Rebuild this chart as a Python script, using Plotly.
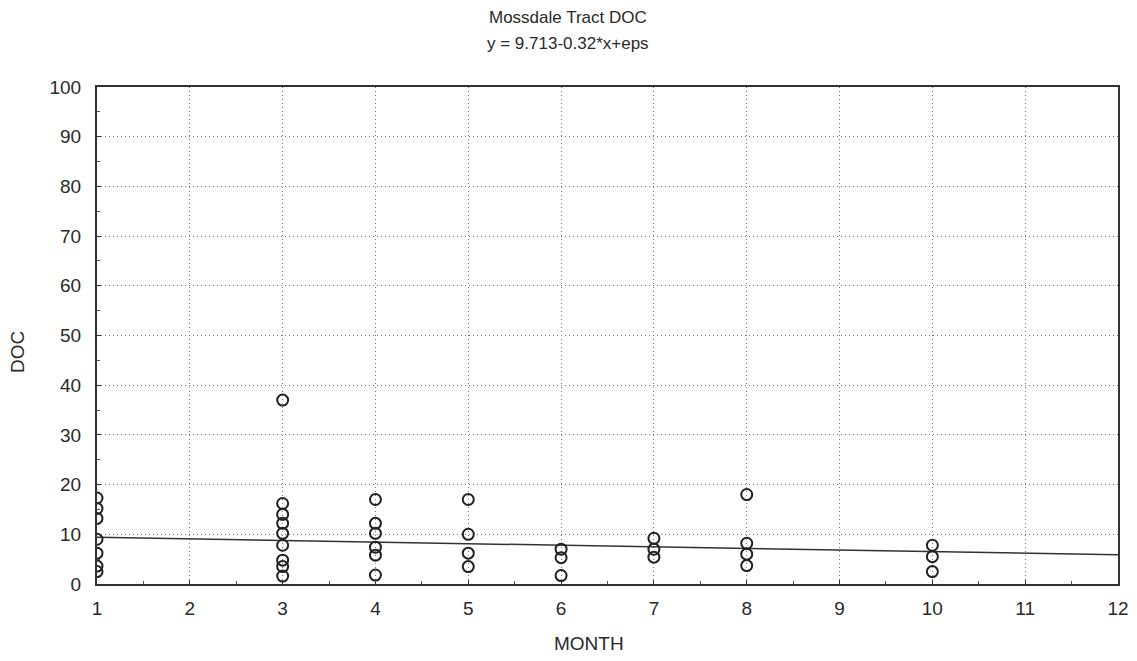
import plotly.graph_objects as go

# Data
month = [1, 1, 1, 1, 1, 1, 1,
         3, 3, 3, 3, 3, 3, 3, 3, 3,
         4, 4, 4, 4, 4, 4,
         5, 5, 5, 5,
         6, 6, 6,
         7, 7, 7,
         8, 8, 8, 8,
         10, 10, 10]
doc = [17.3, 15.2, 13.2, 9.0, 6.2, 3.6, 2.5,
       37.0, 16.2, 14.0, 12.2, 10.2, 7.8, 4.8, 3.5, 1.6,
       17.0, 12.2, 10.2, 7.4, 5.8, 1.8,
       17.0, 10.0, 6.2, 3.5,
       7.0, 5.3, 1.7,
       9.2, 7.0, 5.4,
       18.0, 8.2, 6.0, 3.7,
       7.8, 5.5, 2.5]
intercept = 9.713
slope = -0.32
fit_x = [1, 12]
fit_y = [intercept + slope * x for x in fit_x]

x_ticks = list(range(1, 13))
y_ticks = list(range(0, 101, 10))

title_line1 = "Mossdale Tract DOC"
title_line2 = "y = 9.713-0.32*x+eps"
x_title = "MONTH"
y_title = "DOC"

fig = go.Figure()
fig.add_trace(go.Scatter(
    x=fit_x, y=fit_y, mode="lines",
    line=dict(color="#333333", width=1.5), showlegend=False, hoverinfo="skip"))
fig.add_trace(go.Scatter(
    x=month, y=doc, mode="markers",
    marker=dict(symbol="circle-open", size=11, color="#222222",
                line=dict(width=2, color="#222222")),
    showlegend=False))

font_family = "Liberation Sans, Arial, sans-serif"
txt = "#2a2a2a"
fig.update_layout(
    width=1137, height=661,
    margin=dict(l=89, r=27, t=79, b=85),
    paper_bgcolor="white", plot_bgcolor="white",
    font=dict(family=font_family, color=txt),
)
fig.add_annotation(text=title_line1, xref="paper", yref="paper", x=0.461, y=1,
                   yshift=70, showarrow=False, xanchor="center", yanchor="middle",
                   font=dict(size=17, color=txt))
fig.add_annotation(text=title_line2, xref="paper", yref="paper", x=0.461, y=1,
                   yshift=44, showarrow=False, xanchor="center", yanchor="middle",
                   font=dict(size=17, color=txt))
fig.add_annotation(text=x_title, xref="paper", yref="paper", x=0.482, y=0,
                   yshift=-59, showarrow=False, xanchor="center", yanchor="middle",
                   font=dict(size=19, color=txt))
fig.add_annotation(text=y_title, xref="paper", yref="paper", x=0, y=0.467,
                   xshift=-79, showarrow=False, xanchor="center", yanchor="middle",
                   textangle=-90, font=dict(size=19, color=txt))

grid_dash = "1px,3px"
fig.update_xaxes(
    range=[1, 12], tickvals=x_ticks, ticktext=[str(t) for t in x_ticks],
    showgrid=True, gridcolor="#777777", griddash=grid_dash, gridwidth=1,
    showline=True, linecolor="#333333", linewidth=2, mirror=True,
    ticks="inside", ticklen=4, tickcolor="#333333",
    minor=dict(ticks="inside", ticklen=3, nticks=5, tickcolor="#555555", showgrid=False),
    tickfont=dict(size=19, color=txt), ticklabelstandoff=6,
    zeroline=False,
)
fig.update_yaxes(
    range=[0, 100], tickvals=y_ticks, ticktext=[str(t) for t in y_ticks],
    showgrid=True, gridcolor="#777777", griddash=grid_dash, gridwidth=1,
    showline=True, linecolor="#333333", linewidth=2, mirror=True,
    ticks="inside", ticklen=4, tickcolor="#333333",
    minor=dict(ticks="inside", ticklen=3, nticks=5, tickcolor="#555555", showgrid=False),
    tickfont=dict(size=19, color=txt), ticklabelstandoff=10,
    zeroline=False,
)

fig.write_html("out.html")
